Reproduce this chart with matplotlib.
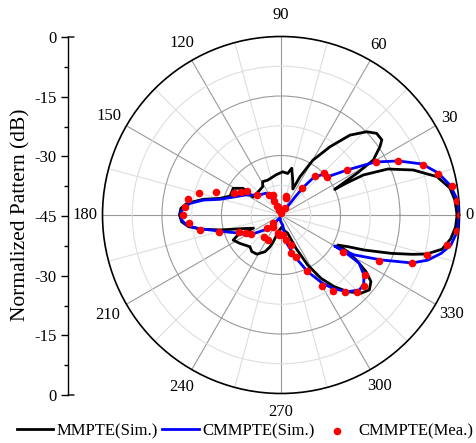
import numpy as np
import matplotlib
matplotlib.use('Agg')
import matplotlib.pyplot as plt
from matplotlib.ticker import MultipleLocator

plt.rcParams['font.family'] = ['Liberation Serif', 'DejaVu Serif']

# ---------------- data (angle in degrees, level in dB) ----------------
mmpte_theta = [0, 4.9, 9.1, 13.8, 18.8, 23.3, 25.9, 26.0, 25.5, 27.5, 28.8, 30.8, 34.6, 36.7,
               40.5, 44.2, 49.2, 54.3, 59.8, 63.6, 65.5, 71.5, 77.1, 80.9, 87.8, 97.1, 110.8,
               118.8, 122.9, 135, 147.3, 144.9, 150.8, 159.6, 164.7, 168.6, 172.9, 176.2, 180,
               183.9, 187.2, 190.4, 193.8, 195.7, 200, 205.7, 205, 207.7, 214.6, 225.6, 231.4,
               238.3, 246.4, 250.9, 253.9, 262, 275, 282, 290.1, 294.2, 298.1, 302.3, 306.6,
               311, 315.6, 319.7, 323.5, 326.3, 328.7, 331.2, 332.1, 334.6, 337.2, 340.8,
               343.3, 345, 348, 352, 356, 360]
mmpte_db = [-0.6, -1.0, -1.9, -4.5, -9.8, -15.7, -21.9, -26.6, -30.0, -26.5, -23.1, -17.9, -14.7,
            -13.3, -13.3, -14.9, -18.4, -23.8, -29.0, -34.2, -37.8, -35.7, -32.9, -34.4, -34.1,
            -34.8, -35.6, -35.4, -36.5, -36.8, -36.6, -33.3, -31.2, -31.3, -29.1, -25.0, -21.1,
            -19.7, -19.4, -19.9, -21.5, -25.1, -29.2, -31.6, -35.0, -37.3, -33.0, -31.4, -32.4,
            -33.8, -33.2, -33.4, -34.9, -36.5, -38.0, -41.0, -42.0, -41.0, -40.1, -35.8, -30.7,
            -26.1, -22.5, -19.4, -16.8, -15.8, -16.8, -19.2, -22.4, -25.8, -28.8, -26.4, -22.2,
            -15.6, -10.5, -7.0, -3.5, -1.8, -0.9, -0.6]

cmmpte_sim_theta = [0, 5, 10, 15, 19.9, 24.8, 29.4, 34.3, 39.6, 44, 49, 51, 52, 52.5, 55, 70,
                    90, 105, 115, 120, 124.7, 137.3, 150.3, 157.9, 163.1, 165.6, 169.1, 172.7,
                    176.1, 179, 182.9, 186.1, 189, 191.9, 197.4, 202.1, 207, 212.2, 217.6, 228.7,
                    233, 250, 265, 275, 279.6, 280.2, 282.6, 289.2, 295.2, 301.4, 305.6, 311,
                    316.1, 319.8, 324.1, 328.4, 329.6, 330, 330.4, 331.4, 335.8, 339.9, 342.9,
                    346.5, 350, 354.6, 360]
cmmpte_sim_db = [0.0, -0.4, -1.7, -4.0, -7.2, -12.5, -17.8, -24.9, -30.0, -30.2, -32.5, -35.8,
                 -39.0, -42.3, -44.5, -44.5, -44.3, -43.5, -42.0, -40.0, -38.3, -37.6, -34.8,
                 -32.7, -30.5, -29.1, -25.1, -21.9, -20.3, -19.7, -19.9, -21.1, -23.5, -26.7,
                 -30.7, -33.0, -34.3, -35.5, -38.1, -40.5, -42.9, -44.3, -43.5, -42.8, -42.5,
                 -40.3, -37.3, -33.5, -29.2, -24.8, -22.1, -19.4, -17.7, -17.7, -19.2, -21.9,
                 -25.6, -29.4, -27.5, -24.0, -17.4, -9.8, -6.3, -3.5, -1.5, -0.4, 0.0]

cmmpte_mea_theta = [29.3, 24.7, 19.5, 14.6, 9.6, 4.7, 0, 354.8, 349.7, 344.6, 339.9, 334.9, 329.5,
                    324.6, 319.7, 314.6, 309.6, 304.6, 299.9, 294.8, 289.8, 284.6, 281.3, 288.4,
                    274.9, 265.2, 259.8, 242, 232.4, 222.9, 234.6, 225, 90, 59.2, 73.3, 75.5,
                    111, 115.6, 115.5, 108.8, 120.3, 140.5, 144.7, 150, 155.1, 160.7, 165.2,
                    170.4, 175.4, 180, 185.2, 190.5, 195.6, 201.7, 206.8, 211.7, 52.8, 49.1,
                    44.1, 39.2, 34.4, 111.7]
cmmpte_mea_db = [-17.5, -12.5, -7.1, -4.2, -1.4, -0.6, 0.0, -0.5, -2.4, -6.7, -9.8, -17.6, -26.8,
                 -19.0, -17.4, -17.8, -19.7, -21.8, -24.4, -29.5, -33.8, -35.0, -38.6, -37.0,
                 -39.9, -39.9, -40.3, -37.9, -38.1, -40.2, -41.4, -42.3, -44.6, -43.0, -40.6,
                 -40.0, -39.6, -41.1, -42.5, -43.7, -39.2, -37.1, -34.4, -33.3, -32.0, -27.7,
                 -23.6, -21.3, -20.7, -20.4, -21.8, -24.2, -28.8, -33.6, -35.1, -36.1, -36.4,
                 -31.9, -29.9, -30.0, -24.9, -42.8]

angle_ticks = [0, 30, 60, 90, 120, 150, 180, 210, 240, 270, 300, 330]
angle_labels = ['0', '30', '60', '90', '120', '150', '180', '210', '240', '270', '300', '330']
angle_minor = [15, 45, 75, 105, 135, 165, 195, 225, 255, 285, 315, 345]
r_major = [-30, -15]
r_minor = [-37.5, -22.5, -7.5]
r_min, r_max = -45, 0
left_tick_values = [0, -15, -30, -45]

W, H = 476, 443
fig = plt.figure(figsize=(W / 100, H / 100), dpi=100)
cx, cy, R = 281, 215, 178.5
ax = fig.add_axes([(cx - R) / W, (H - cy - R) / H, 2 * R / W, 2 * R / H], projection='polar')
ax.set_ylim(r_min, r_max)
ax.set_xticks(np.deg2rad(angle_ticks))
ax.set_xticklabels([])
ax.set_xticks(np.deg2rad(angle_minor), minor=True)
ax.set_yticks(r_major)
ax.set_yticks(r_minor, minor=True)
ax.set_yticklabels([])
ax.set_yticklabels([], minor=True)
ax.xaxis.grid(True, which='major', color='#9a9a9a', lw=0.8)
ax.xaxis.grid(True, which='minor', color='#dedede', lw=0.8)
ax.yaxis.grid(True, which='major', color='#9a9a9a', lw=0.8)
ax.yaxis.grid(True, which='minor', color='#dedede', lw=0.8)
ax.tick_params(axis='x', which='major', direction='out', length=5, width=0.9, color='k')
ax.tick_params(axis='x', which='minor', direction='in', length=4, width=0.9, color='k')
ax.tick_params(axis='y', which='both', length=0)
ax.spines['polar'].set_linewidth(1.2)

# distance (px) of each angle label centre from the polar centre
label_dist_px = {0: 189, 30: 194, 60: 196, 90: 200, 120: 199, 150: 199, 180: 196,
                 210: 200, 240: 199, 270: 197, 300: 198, 330: 197}
px_per_db = R / (r_max - r_min)
for a, lab in zip(angle_ticks, angle_labels):
    rr = r_min + label_dist_px[a] / px_per_db
    ax.text(np.deg2rad(a), rr, lab, ha='center', va='center', fontsize=12)

h1, = ax.plot(np.deg2rad(mmpte_theta), mmpte_db, color='black', lw=2.0, label='MMPTE(Sim.)', zorder=3)
h2, = ax.plot(np.deg2rad(cmmpte_sim_theta), cmmpte_sim_db, color='#0000ff', lw=2.0,
              label='CMMPTE(Sim.)', zorder=4)
h3 = ax.scatter(np.deg2rad(cmmpte_mea_theta), cmmpte_mea_db, s=30, color='#ff0000',
                label='CMMPTE(Mea.)', zorder=5, linewidths=0)

# left linear dB axis
axl = fig.add_axes([68 / W, (H - 395) / H, 0.0005, 358 / H])
axl.patch.set_visible(False)
span = r_max - r_min
axl.set_ylim(-span, span)
for s in ['top', 'right', 'bottom']:
    axl.spines[s].set_visible(False)
axl.spines['left'].set_linewidth(1.0)
axl.set_xticks([])
pos = [v - r_min for v in left_tick_values] + [-(v - r_min) for v in left_tick_values[:-1]]
labs = [str(v) for v in left_tick_values] + [str(v) for v in left_tick_values[:-1]]
axl.set_yticks(pos)
axl.set_yticklabels(labs)
axl.yaxis.set_minor_locator(MultipleLocator(7.5))
axl.tick_params(axis='y', which='major', direction='out', length=5, width=1.0, labelsize=12, pad=3)
axl.tick_params(axis='y', which='minor', direction='out', length=3, width=1.0)
for p in (pos[0], -pos[0]):
    axl.annotate('', xy=(0, p), xycoords=('axes fraction', 'data'), xytext=(6, 0),
                 textcoords='offset pixels', arrowprops=dict(arrowstyle='-', lw=1.0, color='k',
                                                            shrinkA=0, shrinkB=0))

fig.text(21 / W, 1 - 215 / H, 'Normalized Pattern (dB)', rotation=90, ha='center', va='center',
         fontsize=15.5)

fig.legend(handles=[h1, h2, h3], loc='center', bbox_to_anchor=(0.515, 1 - 431 / H), ncol=3,
           frameon=False, fontsize=12, handlelength=2.2, handletextpad=0.2, columnspacing=0.25,
           borderaxespad=0, borderpad=0)

fig.savefig('out.png', dpi=100)
